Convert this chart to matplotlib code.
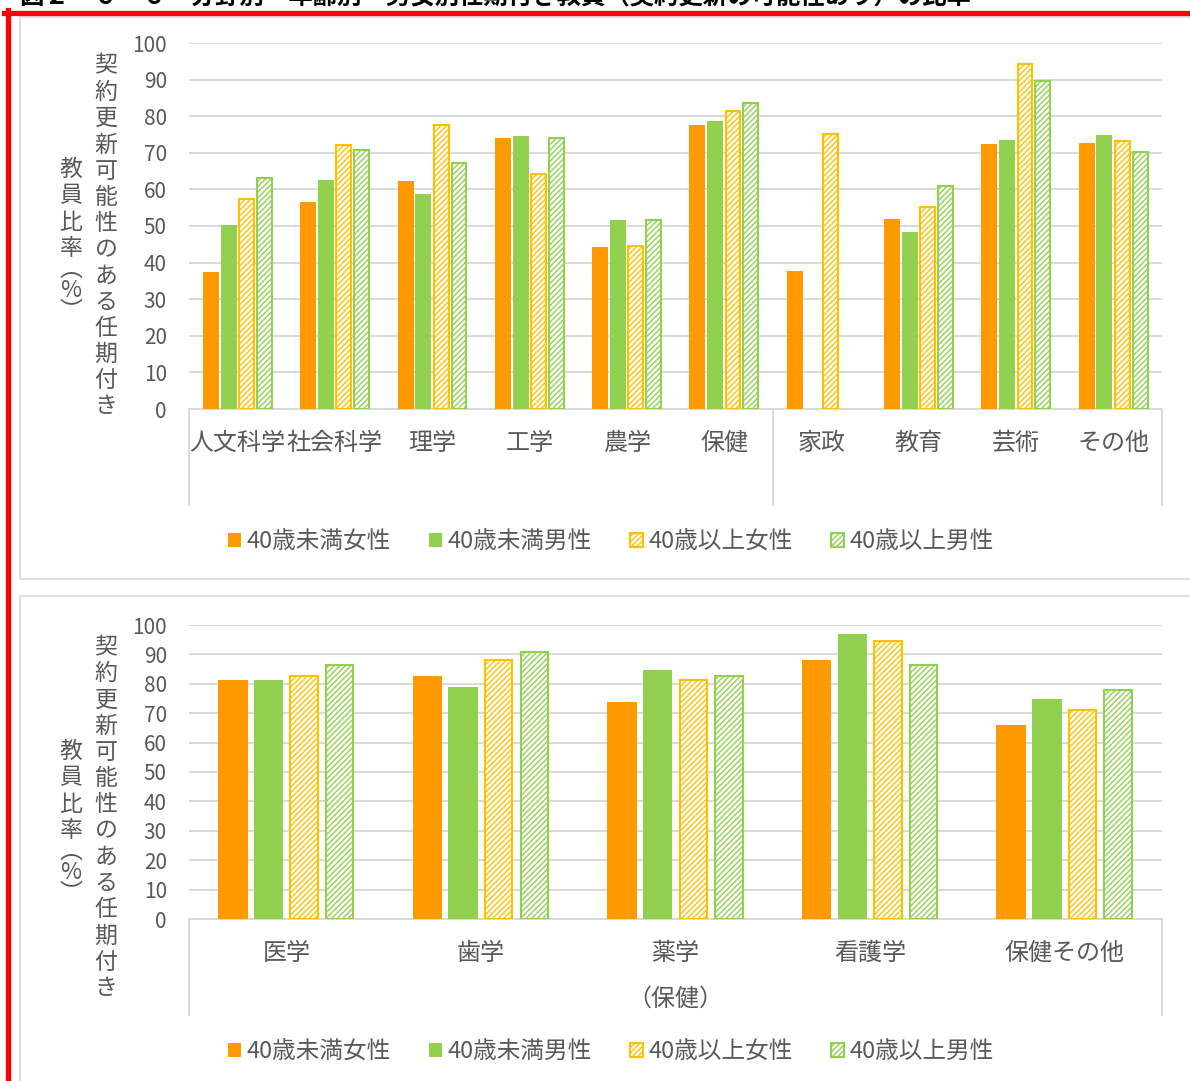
import numpy as np
import matplotlib.pyplot as plt
import matplotlib.transforms as mtransforms
from matplotlib.patches import Rectangle
from matplotlib.lines import Line2D

plt.rcParams['font.family'] = ['Noto Sans CJK JP', 'DejaVu Sans']
plt.rcParams['hatch.linewidth'] = 1.0

# ── Data ─────────────────────────────────────────────────────────────────────
fields_top = ["人文科学", "社会科学", "理学", "工学", "農学", "保健",
              "家政", "教育", "芸術", "その他"]
u40_female_top = [37.3, 56.5, 62.2, 74.0, 44.3, 77.7, 37.7, 52.0, 72.4, 72.6]
u40_male_top   = [50.2, 62.6, 58.7, 74.6, 51.6, 78.8, np.nan, 48.4, 73.6, 74.9]
o40_female_top = [57.4, 72.0, 77.6, 64.3, 44.5, 81.3, 75.1, 55.3, 94.3, 73.1]
o40_male_top   = [63.2, 70.8, 67.3, 74.1, 51.7, 83.7, np.nan, 60.8, 89.6, 70.2]

fields_health = ["医学", "歯学", "薬学", "看護学", "保健その他"]
u40_female_health = [81.2, 82.8, 73.9, 88.1, 65.9]
u40_male_health   = [81.3, 78.9, 84.7, 96.8, 74.8]
o40_female_health = [82.8, 88.1, 81.4, 94.7, 71.1]
o40_male_health   = [86.5, 90.7, 82.8, 86.3, 78.0]

series_labels = ["40歳未満女性", "40歳未満男性", "40歳以上女性", "40歳以上男性"]
title = "図２－６－６　分野別・年齢別・男女別任期付き教員（契約更新の可能性あり）の比率"
ylabel_main = "契約更新可能性のある任期付き"
ylabel_sub = "教員比率︵%︶"

# ── Style ────────────────────────────────────────────────────────────────────
ORANGE = "#FF9900"
GREEN  = "#92D050"
YELLOW = "#FFC000"
GRID   = "#D9D9D9"
TXT    = "#595959"
styles = [(ORANGE, False), (GREEN, False), (YELLOW, True), (GREEN, True)]

W, H = 1190, 1081
fig = plt.figure(figsize=(W / 100, H / 100), dpi=100)


def px_axes(x0, y0, x1, y1):
    return fig.add_axes([x0 / W, 1 - y1 / H, (x1 - x0) / W, (y1 - y0) / H])


def draw_bars(ax, fields, series, bar_w, pitch=0.183):
    x = np.arange(len(fields))
    handles = []
    for i, (vals, (col, hatched)) in enumerate(zip(series, styles)):
        off = (i - 1.5) * pitch
        if hatched:
            b = ax.bar(x + off, vals, bar_w - 0.012, facecolor="white",
                       edgecolor=col, hatch="//////", linewidth=1.5,
                       label=series_labels[i], zorder=3)
        else:
            b = ax.bar(x + off, vals, bar_w, color=col, edgecolor="none",
                       label=series_labels[i], zorder=3)
        handles.append(b)
    ax.set_xlim(-0.5, len(fields) - 0.5)
    ax.set_ylim(0, 100)
    ax.set_yticks(range(0, 101, 10))
    ax.set_xticks(x)
    ax.set_xticklabels(fields, fontsize=17.3, color=TXT)
    ax.tick_params(axis="y", length=0, pad=16, labelsize=15, labelcolor=TXT)
    ax.tick_params(axis="x", length=0, pad=15)
    ax.grid(axis="y", color=GRID, linewidth=1.4, zorder=0)
    for s in ["top", "right", "left"]:
        ax.spines[s].set_visible(False)
    ax.spines["bottom"].set_color(GRID)
    ax.spines["bottom"].set_linewidth(1.4)
    return handles


def dividers(ax, xs, depth_px, height_px):
    tr = mtransforms.blended_transform_factory(ax.transData, ax.transAxes)
    for xv in xs:
        ax.add_line(Line2D([xv, xv], [0, -depth_px / height_px], transform=tr,
                           color=GRID, linewidth=1.4, clip_on=False))


def vertical_text(xc, ycenter, text, pitch=26.2):
    adv = [pitch * 0.6 if ch in "︵︶" else pitch for ch in text]
    y = ycenter - sum(adv) / 2
    for ch, a in zip(text, adv):
        fig.text(xc / W, 1 - (y + a / 2) / H, ch, ha="center", va="center",
                 fontsize=16.5, color=TXT)
        y += a


def add_legend(handles, yc):
    fig.legend(handles, series_labels, loc="center",
               bbox_to_anchor=(611 / W, 1 - yc / H), ncol=4, frameon=False,
               fontsize=17, handlelength=0.55, handleheight=0.55,
               handletextpad=0.25, columnspacing=1.6, labelcolor=TXT)


# ── Frame decorations ────────────────────────────────────────────────────────
fig.text(20 / W, 1 - 3 / H, title, ha="left", va="baseline",
         fontsize=17.6, fontweight="bold", color="black")
fig.add_artist(Line2D([4 / W, 1], [1 - 12.5 / H] * 2, color="red",
                      linewidth=3.8))
fig.add_artist(Line2D([7.5 / W] * 2, [0, 1 - 10 / H], color="red",
                      linewidth=3.8))
for y0, y1 in [(17, 579), (596, 1100)]:
    fig.add_artist(Rectangle((20 / W, 1 - y1 / H), 1200 / W, (y1 - y0) / H,
                             transform=fig.transFigure, fill=False,
                             edgecolor=GRID, linewidth=1.2))

# ── Upper chart: all fields ──────────────────────────────────────────────────
ax1 = px_axes(189, 43, 1162, 409)
h1 = draw_bars(ax1, fields_top,
               [u40_female_top, u40_male_top, o40_female_top, o40_male_top],
               bar_w=0.165)
dividers(ax1, [-0.5, 5.5, 9.5], 96, 366)
vertical_text(106, 236.5, ylabel_main)
vertical_text(71, 238, ylabel_sub)
add_legend(h1, 542)

# ── Lower chart: health breakdown ────────────────────────────────────────────
ax2 = px_axes(189, 625, 1162, 919)
h2 = draw_bars(ax2, fields_health,
               [u40_female_health, u40_male_health, o40_female_health,
                o40_male_health],
               bar_w=0.152)
dividers(ax2, [-0.5, 4.5], 96, 294)
ax2.text(0.5, -80 / 294, "（保健）", transform=ax2.transAxes, ha="center",
         va="center", fontsize=17.3, color=TXT)
vertical_text(106, 818, ylabel_main)
vertical_text(71, 820, ylabel_sub)
add_legend(h2, 1052)

fig.savefig("out.png", dpi=100)
